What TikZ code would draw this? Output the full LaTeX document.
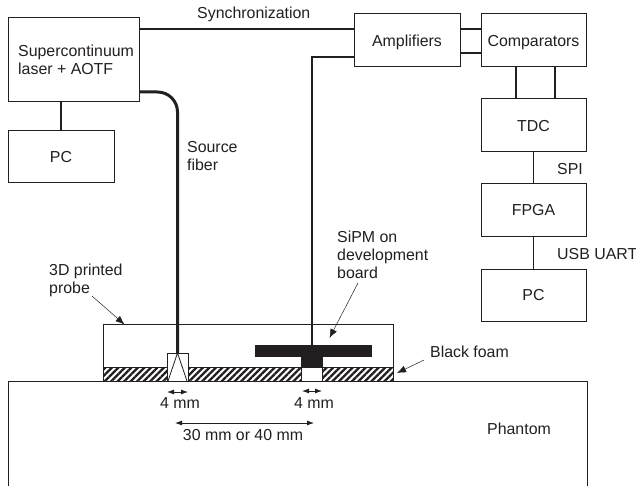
\documentclass[tikz,border=0pt]{standalone}
\usepackage{fontspec}
\setmainfont{Liberation Sans}
\usetikzlibrary{arrows.meta,patterns.meta}
\definecolor{inkdark}{HTML}{231F20}
\tikzset{
  unit-box/.style={draw=inkdark, fill=white, text=inkdark, line width=1pt, inner sep=0pt, outer sep=0pt, align=center, text height=11.4pt, text depth=0pt},
  link/.style={draw=inkdark, line width=1.6pt},
  fiber/.style={draw=inkdark, line width=3pt},
  leader/.style={draw=inkdark, line width=0.5pt, -{Latex[length=9pt,width=7pt]}},
  dim/.style={draw=inkdark, line width=0.8pt, {Latex[length=7pt,width=5pt]}-{Latex[length=7pt,width=5pt]}},
  lbl/.style={text=inkdark, inner sep=0pt, align=left, anchor=base west},
  black-part/.style={fill=inkdark, draw=none, inner sep=0pt, outer sep=0pt},
  foam/.style={pattern={Lines[angle=45,distance=4.6pt,line width=2.3pt]}, pattern color=inkdark, draw=inkdark, line width=0.8pt}
}

\begin{document}
\begin{tikzpicture}[x=1pt,y=-1pt,font=\fontsize{15.9}{18}\selectfont]
  \useasboundingbox (0,0) rectangle (636,486);
  % instruments
  \node[unit-box, minimum width=131pt, minimum height=84pt] (laser) at (73.5,60) {};
  \node[lbl] (laserlbl) at (18,75) {Supercontinuum\\laser + AOTF};
  \node[unit-box, minimum width=106pt, minimum height=52pt] (pcleft) at (61,157) {PC};
  \node[unit-box, minimum width=106pt, minimum height=53pt] (amp) at (407,40.5) {Amplifiers};
  \node[unit-box, minimum width=105pt, minimum height=53pt] (comp) at (533.5,40.5) {Comparators};
  \node[unit-box, minimum width=105pt, minimum height=53pt] (tdc) at (533.5,125.5) {TDC};
  \node[unit-box, minimum width=105pt, minimum height=52pt] (fpga) at (533.5,210) {FPGA};
  \node[unit-box, minimum width=105pt, minimum height=52pt] (pcright) at (533.5,295) {PC};
  % connections between the units
  \draw[link] (laser.south -| pcleft.north) -- (pcleft.north);
  \draw[link] ([yshift=11.5pt]amp.west) -- ([yshift=11.5pt]amp.west -| laser.east);
  \draw[link] ([yshift=11.5pt]amp.east) -- ([yshift=11.5pt]comp.west);
  \draw[link] ([yshift=-12.5pt]amp.east) -- ([yshift=-12.5pt]comp.west);
  \draw[link] ([xshift=-17.5pt]comp.south) -- ([xshift=-17.5pt]tdc.north);
  \draw[link] ([xshift=21.5pt]comp.south) -- ([xshift=21.5pt]tdc.north);
  \draw[link] (tdc.south) -- (fpga.north);
  \draw[link] (fpga.south) -- (pcright.north);
  % probe and phantom
  \coordinate (phl) at (8,381);
  \coordinate (phr) at (587,381);
  \draw[inkdark, line width=1pt] (8,486) -- (phl) -- (phr) -- (587,486);
  \node[unit-box, minimum width=290pt, minimum height=56.5pt] (probe) at (248,352.75) {};
  \draw[foam] (103,367) rectangle (393,381);
  \node[unit-box, minimum width=21pt, minimum height=28pt] (tip) at (177.5,367) {};
  \draw[draw=inkdark, line width=0.8pt] (tip.north) -- (168,381) (tip.north) -- (187,381);
  \node[unit-box, minimum width=21pt, minimum height=14pt] (window) at (311.5,374) {};
  \node[black-part, minimum width=117pt, minimum height=12pt] (board) at (313.5,351) {};
  \node[black-part, minimum width=22pt, minimum height=22pt] (stem) at (312,356) {};
  % fiber and wire
  \draw[fiber, rounded corners=20pt] (laser.east |- 0,92) -- (177.5,92) -- (tip.north);
  \draw[link] ([yshift=-16.5pt]amp.west) -- (312,57) -- (stem.north);
  % dimensions
  \coordinate (dimaa) at (167,392);
  \coordinate (dimab) at (188,392);
  \coordinate (dimba) at (302,391);
  \coordinate (dimbb) at (322,391);
  \coordinate (dimca) at (175,423);
  \coordinate (dimcb) at (314,423);
  \draw[dim] (dimaa) -- (dimab);
  \draw[dim] (dimba) -- (dimbb);
  \draw[dim] (dimca) -- (dimcb);
  \node[text=inkdark, inner sep=0pt, anchor=base] (dima) at (180,408) {4 mm};
  \node[text=inkdark, inner sep=0pt, anchor=base] (dimb) at (314,408) {4 mm};
  \node[text=inkdark, inner sep=0pt, anchor=base] (dimc) at (243,440) {30 mm or 40 mm};
  % labels
  \node[lbl] (synclbl) at (197,19) {Synchronization};
  \node[lbl] (srclbl) at (187,171) {Source\\fiber};
  \node[lbl] (spilbl) at (557,175) {SPI};
  \node[lbl] (usblbl) at (557,259) {USB UART};
  \node[lbl] (sipmlbl) at (337,278.5) {SiPM on\\development\\board};
  \node[lbl] (probelbl) at (49,293) {3D printed\\probe};
  \node[lbl] (foamlbl) at (430,357) {Black foam};
  \node[lbl] (phantomlbl) at (487,434) {Phantom};
  % leaders
  \coordinate (ledprobe) at (92,296);
  \coordinate (ledsipm) at (358,283);
  \coordinate (ledfoam) at (424,360);
  \draw[leader] (ledprobe) -- (124.5,324.5);
  \draw[leader] (ledsipm) -- (329.5,338);
  \draw[leader] (ledfoam) -- (397,373);
\end{tikzpicture}
\end{document}
